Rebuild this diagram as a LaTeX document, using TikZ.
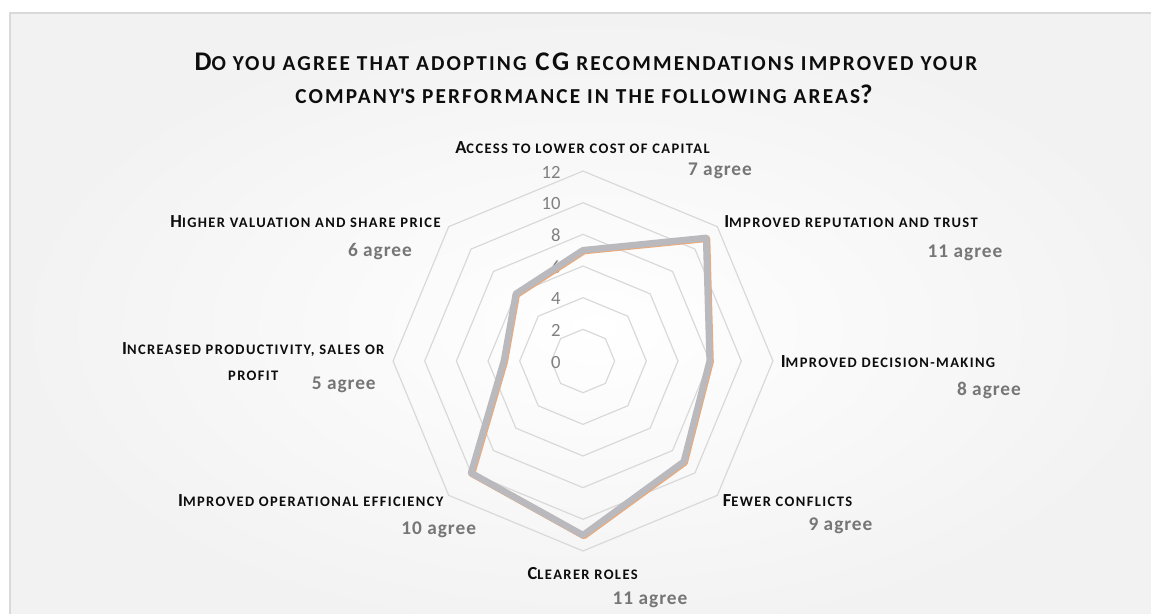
\documentclass[tikz,border=0pt]{standalone}
\usepackage{fontspec}
\setmainfont{Carlito}
\usepackage{tikz}
\tikzset{every picture/.style={line width=0.75pt}}

\definecolor{bggray}{RGB}{242,242,242}
\definecolor{framegray}{RGB}{217,217,217}
\definecolor{gridgray}{RGB}{217,217,217}
\definecolor{seriesgray}{RGB}{186,186,190}
\definecolor{seriesedge}{RGB}{237,170,120}
\definecolor{ticktext}{RGB}{128,128,128}
\definecolor{valtext}{RGB}{118,118,118}
\definecolor{lbltext}{RGB}{13,13,13}

% fake small caps: upper case, a size smaller
\makeatletter
\newcommand{\smc}[1]{{\fontsize{\fpeval{0.79*\f@size}}{\f@baselineskip}\selectfont\MakeUppercase{#1}}}
\makeatother

\tikzset{
  gridline/.style={draw=gridgray, line width=0.9pt},
  dataline/.style={draw=seriesgray, line width=4.9pt, line join=round},
  dataedge/.style={draw=seriesedge, line width=4.9pt, line join=round},
  ttlfont/.style={font=\fontsize{20.2}{24}\selectfont\bfseries\addfontfeature{LetterSpace=10}, text=lbltext},
  lblfont/.style={font=\fontsize{13.8}{19.5}\selectfont\bfseries\addfontfeature{LetterSpace=9.5}, text=lbltext},
  valfont/.style={font=\fontsize{14.5}{17}\selectfont\bfseries\addfontfeature{LetterSpace=5}, text=valtext},
  tickfont/.style={font=\fontsize{14}{17}\selectfont, text=ticktext}
}

\newcommand{\rstep}{15.83}

\begin{document}
\begin{tikzpicture}[x=0.75pt,y=0.75pt,yscale=-1,xscale=1]
\useasboundingbox (0,0) rectangle (1151,613);
\begin{scope}
\clip (0,0) rectangle (1151,613);
%background and frame
\shade[inner color=white, outer color=bggray] (10,13) rectangle (1180,640);
\draw [draw=framegray, line width=1.5pt] (10,13) rectangle (1180,640);
\end{scope}

%title
\draw (586,70.7) node (ttl) [anchor=base][inner sep=0.75pt] [ttlfont] {D\smc{o you agree that adopting} CG\smc{ recommendations improved your}};
\draw (584,103.3) node (ttl2) [anchor=base][inner sep=0.75pt] [ttlfont] {\smc{company\textquotesingle s performance in the following areas}?};

\begin{scope}[shift={(583,361)}]
%grid
\foreach \lv in {2,4,...,12}
  \draw [gridline] (-90:\lv*\rstep) \foreach \a in {-45,0,...,225} { -- (\a:\lv*\rstep) } -- cycle ;
%points of the series
\foreach \v [count=\i from 0] in {7,11,8,9,11,10,5,6}
  \coordinate (p\i) at ({-90+45*\i}:{\v*\rstep}) ;
\end{scope}

%tick values
\foreach \lv in {0,2,...,12}
  \draw (561,361-\lv*\rstep+7) node (tk\lv) [anchor=base east][inner sep=0pt] [tickfont] {\lv};

%series
\draw [dataedge] ([shift={(0.9,0.9)}]p0) -- ([shift={(0.9,0.9)}]p1) -- ([shift={(0.9,0.9)}]p2) -- ([shift={(0.9,0.9)}]p3) -- ([shift={(0.9,0.9)}]p4) -- ([shift={(0.9,0.9)}]p5) -- ([shift={(0.9,0.9)}]p6) -- ([shift={(0.9,0.9)}]p7) -- cycle ;
\draw [dataline] (p0) -- (p1) -- (p2) -- (p3) -- (p4) -- (p5) -- (p6) -- (p7) -- cycle ;

%category labels
\draw (582.5,153.3) node (ax0) [anchor=base][inner sep=0.75pt] [lblfont] {A\smc{ccess to lower cost of capital}};
\draw (851,227.7) node (ax1) [anchor=base][inner sep=0.75pt] [lblfont] {I\smc{mproved reputation and trust}};
\draw (888,367.3) node (ax2) [anchor=base][inner sep=0.75pt] [lblfont] {I\smc{mproved decision-making}};
\draw (787.5,506.7) node (ax3) [anchor=base][inner sep=0.75pt] [lblfont] {F\smc{ewer conflicts}};
\draw (582.7,579) node (ax4) [anchor=base][inner sep=0.75pt] [lblfont] {C\smc{learer roles}};
\draw (310.8,506.7) node (ax5) [anchor=base][inner sep=0.75pt] [lblfont] {I\smc{mproved operational efficiency}};
\draw (253.3,354) node (ax6) [anchor=base][inner sep=0.75pt] [lblfont] {I\smc{ncreased productivity, sales or}};
\draw (253.3,380) node (ax6b) [anchor=base][inner sep=0.75pt] [lblfont] {\smc{profit}};
\draw (305.5,227.7) node (ax7) [anchor=base][inner sep=0.75pt] [lblfont] {H\smc{igher valuation and share price}};

%value labels
\draw (720,175.7) node (v0) [anchor=base][inner sep=0.75pt] [valfont] {7 agree};
\draw (965,257.3) node (v1) [anchor=base][inner sep=0.75pt] [valfont] {11 agree};
\draw (989,395) node (v2) [anchor=base][inner sep=0.75pt] [valfont] {8 agree};
\draw (840.5,530) node (v3) [anchor=base][inner sep=0.75pt] [valfont] {9 agree};
\draw (650,604) node (v4) [anchor=base][inner sep=0.75pt] [valfont] {11 agree};
\draw (438.7,534) node (v5) [anchor=base][inner sep=0.75pt] [valfont] {10 agree};
\draw (343.8,389.3) node (v6) [anchor=base][inner sep=0.75pt] [valfont] {5 agree};
\draw (380,256.7) node (v7) [anchor=base][inner sep=0.75pt] [valfont] {6 agree};
\end{tikzpicture}
\end{document}
